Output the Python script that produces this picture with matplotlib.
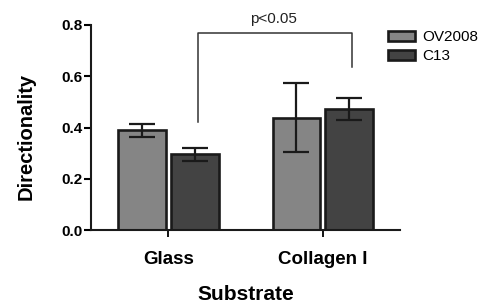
import numpy as np
import matplotlib.pyplot as plt

plt.rcParams['font.family'] = ['Liberation Sans', 'DejaVu Sans']

# Data
substrates = ['Glass', 'Collagen I']
ov2008 = [0.39, 0.438]
ov2008_err = [0.025, 0.135]
c13 = [0.295, 0.471]
c13_err = [0.026, 0.043]

fig = plt.figure(figsize=(4.85, 3.04), dpi=100)
ax = fig.add_axes([0.188, 0.243, 0.637, 0.675])

x = np.arange(len(substrates))
w = 0.31
off = 0.171
ax.bar(x - off, ov2008, w, color='#858585', edgecolor='#1a1a1a', linewidth=1.9,
       label='OV2008', zorder=2)
ax.bar(x + off, c13, w, color='#434343', edgecolor='#1a1a1a', linewidth=1.9,
       label='C13', zorder=2)
ax.errorbar(x - off, ov2008, yerr=ov2008_err, fmt='none', ecolor='#1a1a1a',
            elinewidth=1.6, capsize=9.7, capthick=1.6, zorder=3)
ax.errorbar(x + off, c13, yerr=c13_err, fmt='none', ecolor='#1a1a1a',
            elinewidth=1.6, capsize=9.7, capthick=1.6, zorder=3)

# significance bracket
bx = [0.194, 0.194, 1.187, 1.187]
by = [0.42, 0.769, 0.769, 0.636]
ax.plot(bx, by, color='#333333', lw=1.1, clip_on=False)
ax.text(0.677, 0.797, 'p<0.05', ha='center', va='bottom', fontsize=11, color='#222222')

ax.set_xlim(-0.5, 1.5)
ax.set_ylim(0, 0.8)
ax.set_yticks([0.0, 0.2, 0.4, 0.6, 0.8])
ax.set_yticklabels(['0.0', '0.2', '0.4', '0.6', '0.8'], fontweight='bold', fontsize=11)
ax.set_xticks(x)
ax.set_xticklabels(substrates, fontweight='bold', fontsize=13.5)
ax.tick_params(axis='x', length=5, width=1.3, pad=10)
ax.tick_params(axis='y', length=5, width=1.5, pad=1.5)
for s in ['top', 'right']:
    ax.spines[s].set_visible(False)
for s in ['left', 'bottom']:
    ax.spines[s].set_linewidth(1.5)
    ax.spines[s].set_color('#1a1a1a')

ax.set_ylabel('Directionality', fontweight='bold', fontsize=14.5)
ax.yaxis.set_label_coords(-0.18, 0.455)
ax.set_xlabel('Substrate', fontweight='bold', fontsize=15, labelpad=12)

fig.legend(loc='upper left', bbox_to_anchor=(0.8, 0.9), frameon=False,
           fontsize=11, handlelength=1.76, handleheight=0.65, handletextpad=0.5,
           labelspacing=0.3, borderaxespad=0, borderpad=0)

fig.savefig('out.png', dpi=100)
